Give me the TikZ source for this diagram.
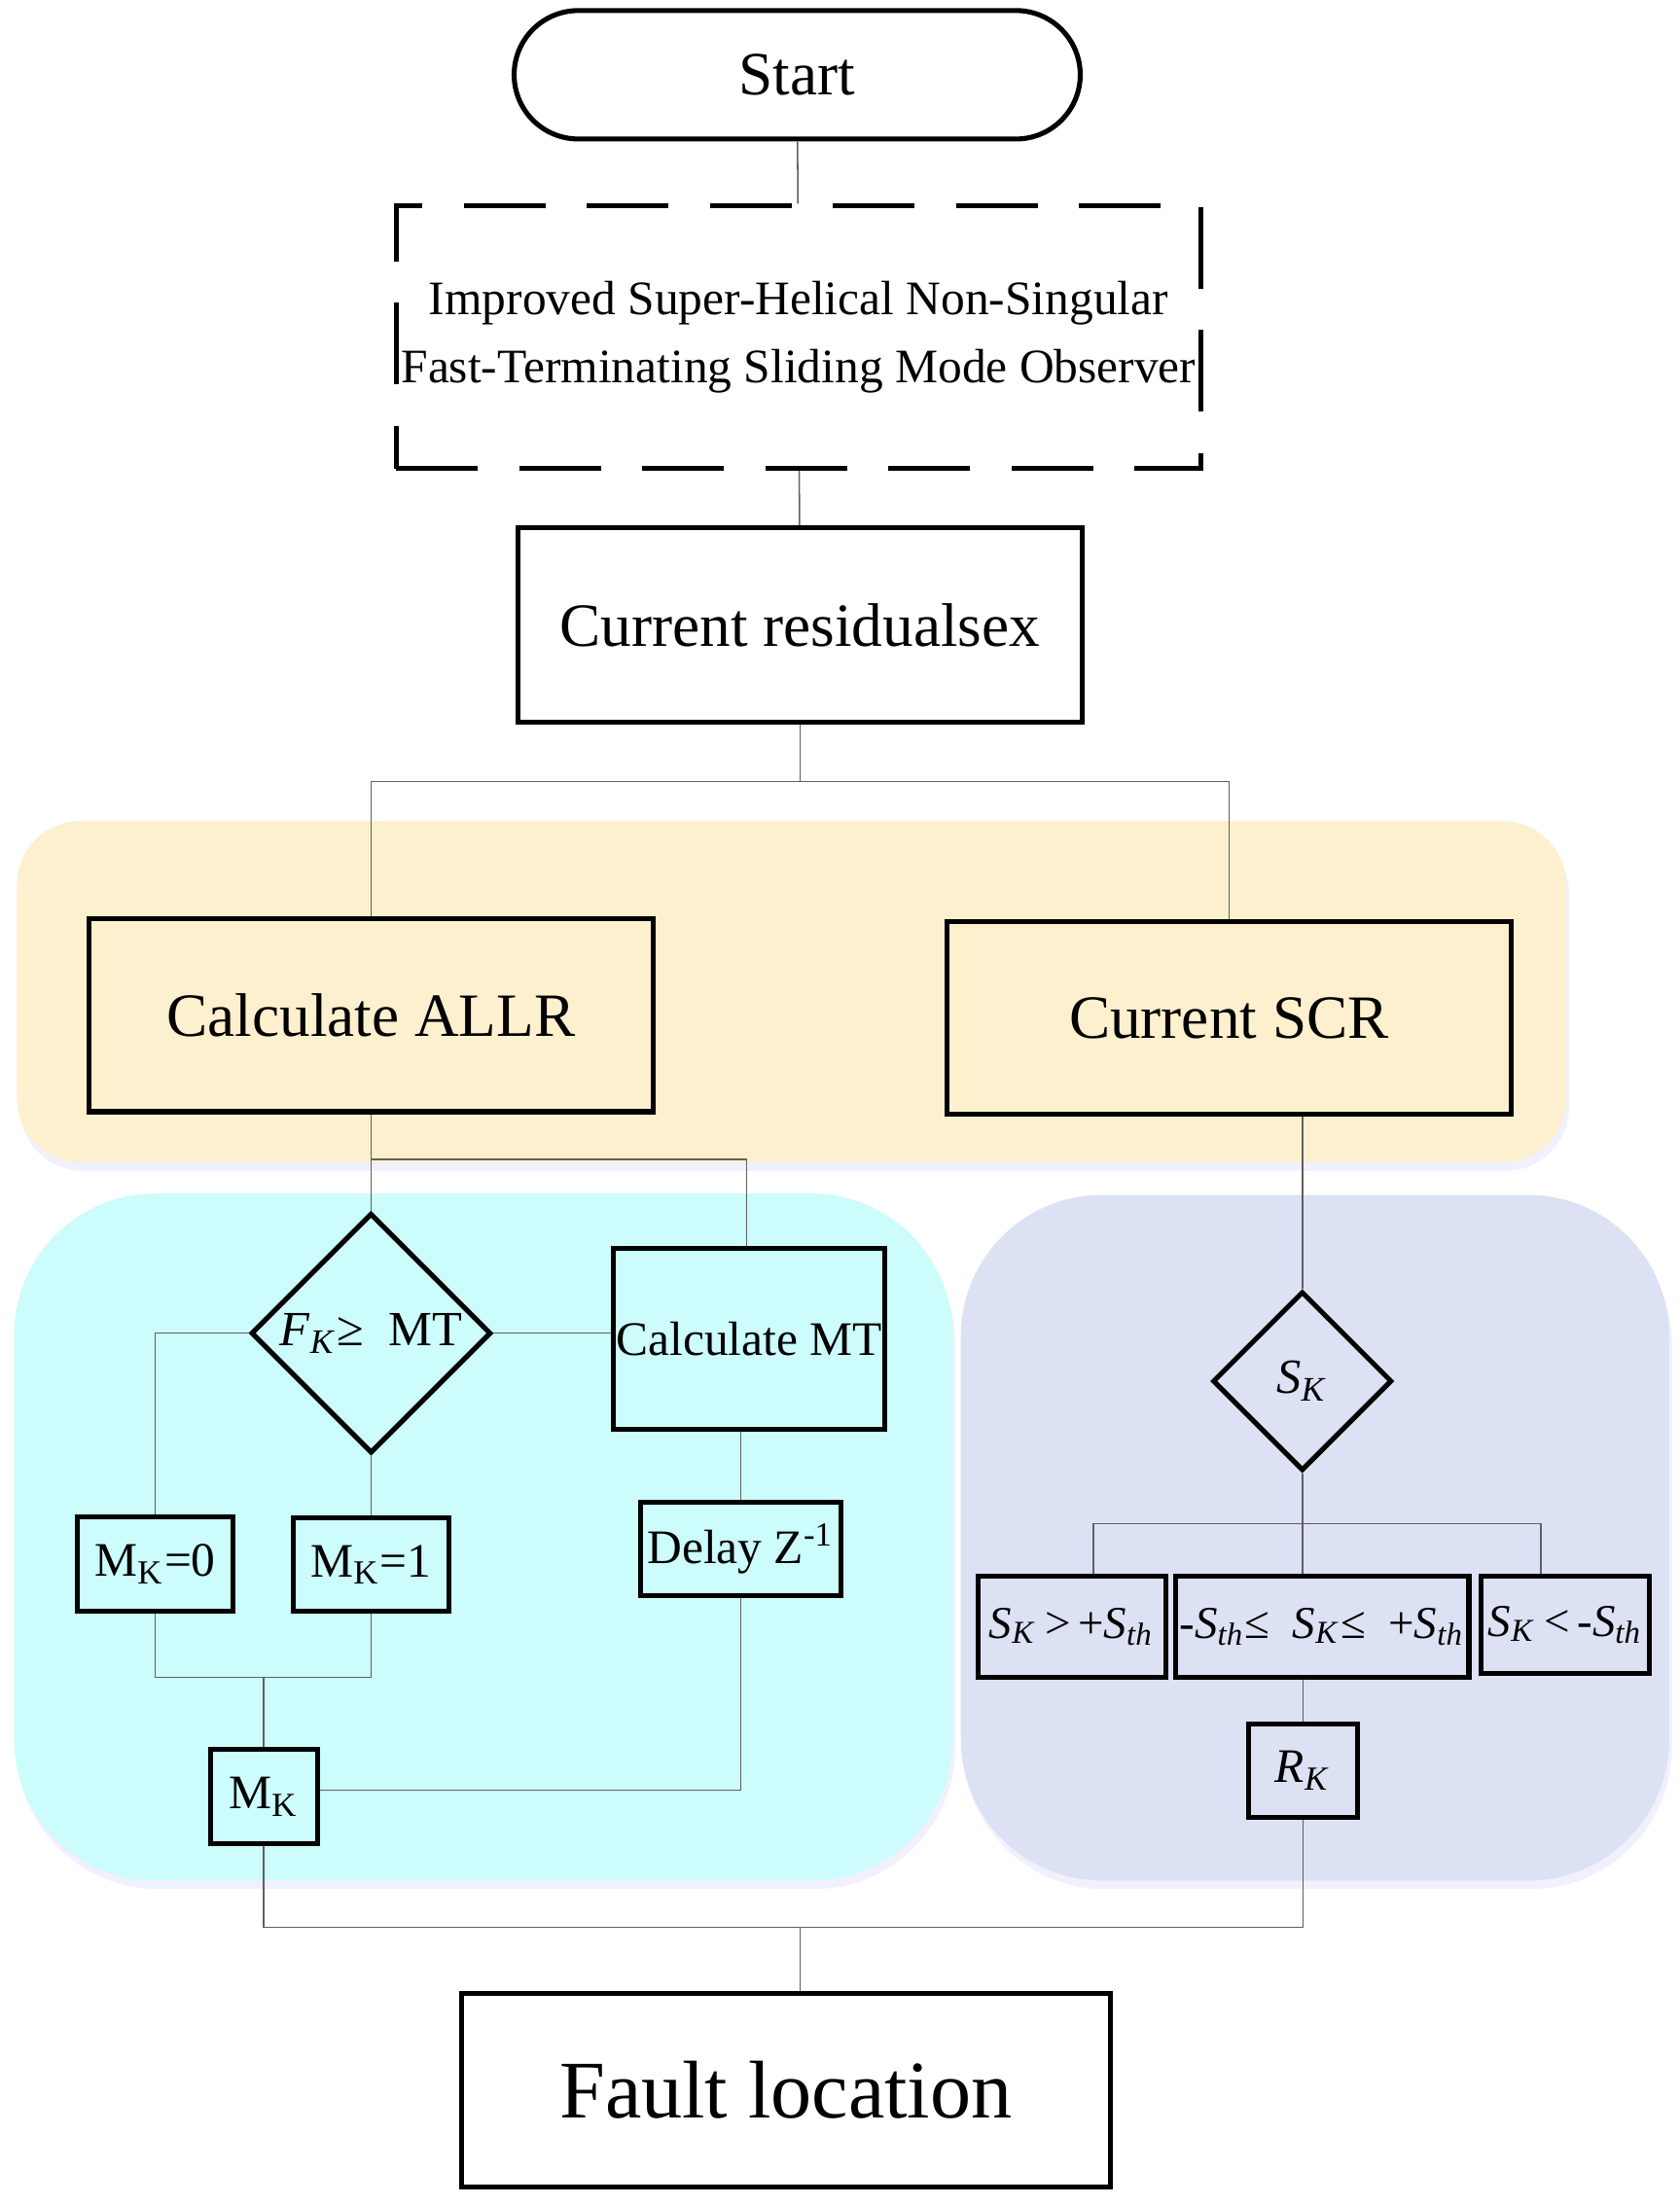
\documentclass[tikz,border=0pt]{standalone}
\usepackage{fontspec}
\setmainfont{Liberation Serif}
\usetikzlibrary{shapes.geometric,shadows}
\definecolor{regyellow}{RGB}{253,240,206}
\definecolor{regcyan}{RGB}{204,252,252}
\definecolor{reglav}{RGB}{220,225,243}
\newcommand{\symsub}[2]{\textit{#1}\textsubscript{\textit{#2}}}

\begin{document}
\begin{tikzpicture}[x=0.01cm, y=-0.01cm,
  box/.style={draw, line width=1pt, inner sep=0pt, align=center, font=\fontsize{12.4}{15}\selectfont},
  smallbox/.style={box, font=\fontsize{9.7}{11.6}\selectfont},
  rangebox/.style={box, font=\fontsize{9.2}{11}\selectfont},
  decide/.style={draw, diamond, aspect=1, line width=1pt, inner sep=0pt, font=\fontsize{9.9}{11.6}\selectfont},
  conn/.style={draw=gray!75!black, line width=0.3pt},
  region/.style={drop shadow={shadow xshift=0.2mm, shadow yshift=-0.6mm, fill=blue!40, opacity=0.15}}]
\useasboundingbox (0,0) rectangle (1190,1563);

% Regions
\fill[regyellow, rounded corners=0.45cm, region] (12,582) rectangle (1110,824);
\fill[regcyan, rounded corners=1cm, region] (10,846) rectangle (675,1333);
\fill[reglav, rounded corners=1cm, region] (681,847) rectangle (1183,1333);

% Top chain
\node[box, rounded corners=0.455cm, minimum width=4.01cm, minimum height=0.91cm] (start) at (565,53) {Start};
\node[box, line width=0.9pt, dash pattern=on 16.5pt off 8.3pt, minimum width=5.70cm, minimum height=1.86cm,
  font=\fontsize{9.7}{13.9}\selectfont] (observer) at (566,239) {Improved Super-Helical Non-Singular\\Fast-Terminating Sliding Mode Observer};
\node[box, minimum width=4cm, minimum height=1.38cm] (res) at (567,443) {Current residualsex};

\draw[conn] (start) -- (observer);
\draw[conn] (observer) -- (res);

% Split into ALLR and SCR
\coordinate (split) at (567,554);
\node[box, minimum width=4cm, minimum height=1.37cm] (allr) at (263,719.5) {Calculate ALLR};
\node[box, minimum width=4cm, minimum height=1.37cm] (scr) at (871,721.5) {Current SCR};

\draw[conn] (res) -- (split) -| (allr);
\draw[conn] (split) -| (scr);

% ALLR branch
\coordinate (split2) at (263,822);
\node[decide, minimum size=1.7cm] (fk) at (263,945) {\symsub{F}{K}≥\ \ MT};
\node[smallbox, minimum width=1.92cm, minimum height=1.28cm] (calcmt) at (531,949) {Calculate MT};
\node[smallbox, minimum width=1.10cm, minimum height=0.67cm] (mk0) at (110,1108.5) {M\textsubscript{K}=0};
\node[smallbox, minimum width=1.10cm, minimum height=0.66cm] (mk1) at (263,1109) {M\textsubscript{K}=1};
\node[smallbox, minimum width=1.42cm, minimum height=0.66cm] (delay) at (525,1098) {Delay Z\textsuperscript{-1}};
\coordinate (join) at (187,1189);
\node[smallbox, minimum width=0.76cm, minimum height=0.67cm] (mk) at (187,1273.5) {M\textsubscript{K}};

\draw[conn] (allr) -- (split2) -- (fk);
\draw[conn] (split2) -| ([xshift=-0.02cm]calcmt.north);
\draw[conn] (fk.east) -- (fk.east -| calcmt.west);
\draw[conn] (fk.west) -| (mk0);
\draw[conn] (fk) -- (mk1);
\draw[conn] (mk0) |- (join) -| (mk1);
\draw[conn] (join) -- (mk);
\draw[conn] (calcmt.south -| delay) -- (delay);
\draw[conn] (delay) |- ([yshift=0.045cm]mk.east);

% SCR branch
\node[decide, minimum size=1.27cm] (sk) at (923,979) {\symsub{S}{K}};
\coordinate (join4) at (923,1080);
\node[rangebox, minimum width=1.33cm, minimum height=0.72cm] (sgt) at (759.5,1153) {\symsub{S}{K}\,\textgreater\,+\symsub{S}{th}};
\node[rangebox, minimum width=2.08cm, minimum height=0.72cm] (smid) at (937,1153) {-\symsub{S}{th}≤\ \ \symsub{S}{K}≤\ \ +\symsub{S}{th}};
\node[rangebox, minimum width=1.19cm, minimum height=0.69cm] (slt) at (1109.5,1151.5) {\symsub{S}{K}\,\textless\,-\symsub{S}{th}};
\node[smallbox, minimum width=0.77cm, minimum height=0.66cm] (rk) at (923.5,1255) {\symsub{R}{K}};

\draw[conn] (scr.south -| sk) -- (sk);
\draw[conn] (sk) -- (join4) -- (join4 |- smid.north);
\draw[conn] ([xshift=0.155cm]sgt.north) |- (join4) -| ([xshift=-0.175cm]slt.north);
\draw[conn] (smid.south -| rk) -- (rk);

% Fault location
\coordinate (join3) at (567,1366);
\node[box, font=\fontsize{16.5}{19}\selectfont, minimum width=4.60cm, minimum height=1.37cm] (fault) at (557,1481.5) {Fault location};

\draw[conn] (mk) |- (join3) -| (rk);
\draw[conn] (join3) -- (join3 |- fault.north);
\end{tikzpicture}
\end{document}
